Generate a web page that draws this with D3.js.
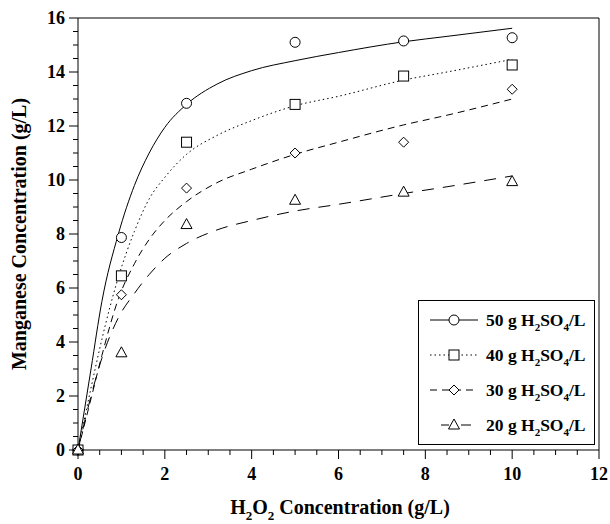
<!DOCTYPE html>
<html>
<head>
<meta charset="utf-8">
<script src="https://cdn.jsdelivr.net/npm/d3@7"></script>
<style>
  body { margin: 0; background: #fff; }
  text { font-family: "Liberation Serif", "Times New Roman", serif; font-weight: bold; fill: #000; }
</style>
</head>
<body>
<div id="chart"></div>
<script>
// measured points
var xData = [0, 1, 2.5, 5, 7.5, 10];
var mn50 = [0, 7.87, 12.84, 15.1, 15.15, 15.27];
var mn40 = [0, 6.45, 11.4, 12.8, 13.85, 14.26];
var mn30 = [0, 5.75, 9.7, 11.0, 11.4, 13.36];
var mn20 = [0, 3.6, 8.35, 9.25, 9.55, 9.94];

// fitted curves
var fitX = [0, 0.3, 0.55, 0.93, 1.3, 1.64, 2.0, 2.5, 3.2, 4, 5, 6, 7.5, 8.5, 10];
var fit50 = [0, 3.0, 5.5, 8.0, 9.8, 11.0, 11.95, 12.8, 13.55, 14.05, 14.42, 14.72, 15.12, 15.32, 15.62];
var fit40 = [0, 2.3, 4.1, 6.4, 8.1, 9.3, 10.1, 10.95, 11.65, 12.2, 12.75, 13.1, 13.7, 14.0, 14.47];
var fit30 = [0, 1.9, 3.5, 5.6, 6.9, 7.8, 8.5, 9.2, 9.9, 10.4, 10.95, 11.4, 12.04, 12.4, 13.0];
var fit20 = [0, 2.0, 3.4, 4.9, 5.8, 6.5, 7.1, 7.65, 8.15, 8.5, 8.85, 9.1, 9.5, 9.75, 10.15];

var acidLabels = ["50", "40", "30", "20"];
var xTicks = [0, 2, 4, 6, 8, 10, 12];
var yTicks = [0, 2, 4, 6, 8, 10, 12, 14, 16];

var width = 610, height = 524;
var mLeft = 78, mRight = 599, mTop = 18, mBottom = 450;

var svg = d3.select("#chart").append("svg")
    .attr("width", width)
    .attr("height", height);

var xScale = d3.scaleLinear().domain([0, 12]).range([mLeft, mRight]);
var yScale = d3.scaleLinear().domain([0, 16]).range([mBottom, mTop]);

var series = [
    {vals: mn50, fit: fit50, marker: "circle", dash: null},
    {vals: mn40, fit: fit40, marker: "square", dash: "1.5,3"},
    {vals: mn30, fit: fit30, marker: "diamond", dash: "7,5"},
    {vals: mn20, fit: fit20, marker: "triangle", dash: "12,9"}
];

//frame top and right
svg.append("line").attr("x1", mLeft).attr("x2", mRight).attr("y1", mTop).attr("y2", mTop)
    .attr("stroke", "#000").attr("stroke-width", 1);
svg.append("line").attr("x1", mRight).attr("x2", mRight).attr("y1", mTop).attr("y2", mBottom)
    .attr("stroke", "#000").attr("stroke-width", 1);

//axes with minor ticks
var xMinor = d3.range(0, 12.01, 0.5);
var yMinor = d3.range(0, 16.01, 0.5);

var xAxis = svg.append("g").attr("transform", "translate(0," + mBottom + ")");
xAxis.append("line").attr("x1", mLeft).attr("x2", mRight).attr("stroke", "#000");
xAxis.selectAll(".minor").data(xMinor).enter().append("line")
    .attr("x1", function (d) { return xScale(d); })
    .attr("x2", function (d) { return xScale(d); })
    .attr("y1", 0)
    .attr("y2", function (d) { return xTicks.indexOf(d) >= 0 ? 9 : 5; })
    .attr("stroke", "#000");
xAxis.selectAll(".lbl").data(xTicks).enter().append("text")
    .attr("x", function (d) { return xScale(d); })
    .attr("y", 30)
    .attr("text-anchor", "middle")
    .style("font-size", "18px")
    .text(function (d) { return d; });

var yAxis = svg.append("g").attr("transform", "translate(" + mLeft + ",0)");
yAxis.append("line").attr("y1", mTop).attr("y2", mBottom).attr("stroke", "#000");
yAxis.selectAll(".minor").data(yMinor).enter().append("line")
    .attr("y1", function (d) { return yScale(d); })
    .attr("y2", function (d) { return yScale(d); })
    .attr("x1", 0)
    .attr("x2", function (d) { return yTicks.indexOf(d) >= 0 ? -9 : -5; })
    .attr("stroke", "#000");
yAxis.selectAll(".lbl").data(yTicks).enter().append("text")
    .attr("x", -13)
    .attr("y", function (d) { return yScale(d) + 6; })
    .attr("text-anchor", "end")
    .style("font-size", "18px")
    .text(function (d) { return d; });

//axis titles
var xt = svg.append("text")
    .attr("x", 340)
    .attr("y", 514)
    .attr("text-anchor", "middle")
    .style("font-size", "20px");
xt.append("tspan").text("H");
xt.append("tspan").attr("dy", 6).style("font-size", "13px").text("2");
xt.append("tspan").attr("dy", -6).text("O");
xt.append("tspan").attr("dy", 6).style("font-size", "13px").text("2");
xt.append("tspan").attr("dy", -6).text(" Concentration (g/L)");

svg.append("text")
    .attr("transform", "translate(26," + ((mTop + mBottom) / 2) + ") rotate(-90)")
    .attr("text-anchor", "middle")
    .style("font-size", "20px")
    .text("Manganese Concentration (g/L)");

//markers
function drawMarker(g, type, cx, cy) {
    if (type === "circle") {
        g.append("circle").attr("cx", cx).attr("cy", cy).attr("r", 5);
    } else if (type === "square") {
        g.append("rect").attr("x", cx - 5).attr("y", cy - 5).attr("width", 10).attr("height", 10);
    } else if (type === "diamond") {
        g.append("path").attr("d", "M" + cx + "," + (cy - 5) + "L" + (cx + 5) + "," + cy +
            "L" + cx + "," + (cy + 5) + "L" + (cx - 5) + "," + cy + "Z");
    } else {
        g.append("path").attr("d", "M" + cx + "," + (cy - 6) + "L" + (cx + 5.5) + "," + (cy + 4) +
            "L" + (cx - 5.5) + "," + (cy + 4) + "Z");
    }
}

var line = d3.line()
    .x(function (d) { return xScale(d[0]); })
    .y(function (d) { return yScale(d[1]); })
    .curve(d3.curveMonotoneX);

series.forEach(function (s) {
    svg.append("path")
        .datum(fitX.map(function (x, i) { return [x, s.fit[i]]; }))
        .attr("d", line)
        .attr("fill", "none")
        .attr("stroke", "#000")
        .attr("stroke-width", 1)
        .attr("stroke-dasharray", s.dash);
    var g = svg.append("g").attr("fill", "#fff").attr("stroke", "#000").attr("stroke-width", 1);
    xData.forEach(function (x, i) {
        drawMarker(g, s.marker, xScale(x), yScale(s.vals[i]));
    });
});

//legend
var lg = svg.append("g");
lg.append("rect")
    .attr("x", 418.5).attr("y", 300.5)
    .attr("width", 176).attr("height", 144)
    .attr("fill", "#fff").attr("stroke", "#000");

series.forEach(function (s, i) {
    var y = 320 + i * 35;
    var ln = lg.append("line")
        .attr("x1", 430).attr("x2", 478).attr("y1", y).attr("y2", y)
        .attr("stroke", "#000")
        .attr("stroke-dasharray", s.dash);
    // long dash sample: short piece, marker, one dash
    if (i === 3) ln.attr("x1", 441).attr("x2", 471).attr("stroke-dasharray", "8,12,10");
    var g = lg.append("g").attr("fill", "#fff").attr("stroke", "#000");
    drawMarker(g, s.marker, 454, y);
    var t = lg.append("text").attr("x", 486).attr("y", y + 6).style("font-size", "17.5px");
    t.append("tspan").text(acidLabels[i] + " g H");
    t.append("tspan").attr("dy", 5).style("font-size", "11px").text("2");
    t.append("tspan").attr("dy", -5).text("SO");
    t.append("tspan").attr("dy", 5).style("font-size", "11px").text("4");
    t.append("tspan").attr("dy", -5).text("/L");
});
</script>
</body>
</html>
